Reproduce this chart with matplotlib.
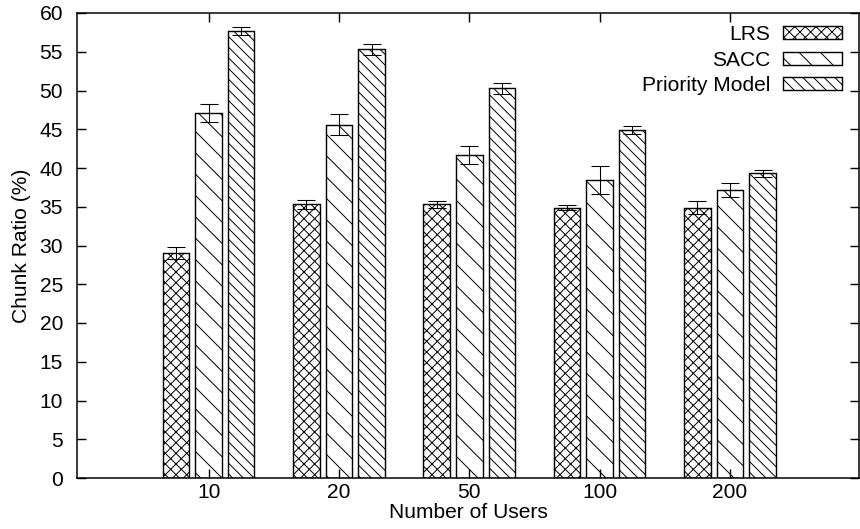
import numpy as np
import matplotlib
matplotlib.use("Agg")
import matplotlib.pyplot as plt

users = ["10", "20", "50", "100", "200"]
series = ["LRS", "SACC", "Priority Model"]
lrs = [29.0, 35.3, 35.3, 34.9, 34.9]
lrs_err = [0.8, 0.6, 0.4, 0.3, 0.8]
sacc = [47.1, 45.6, 41.7, 38.5, 37.2]
sacc_err = [1.2, 1.4, 1.2, 1.8, 0.9]
prio = [57.7, 55.3, 50.3, 44.9, 39.3]
prio_err = [0.5, 0.7, 0.7, 0.5, 0.4]

hatches = ["xxxx", "\\\\", "\\\\\\\\"]

DPI = 128  # hatch spacing scales with dpi, picked to match the gnuplot look
plt.rcParams["font.family"] = ["Liberation Sans", "DejaVu Sans"]
plt.rcParams["font.size"] = 11.8
plt.rcParams["hatch.linewidth"] = 0.55
plt.rcParams["hatch.color"] = "black"

fig = plt.figure(figsize=(860 / DPI, 529 / DPI), dpi=DPI)
ax = fig.add_axes([77 / 860, 51 / 529, 782 / 860, 465 / 529])

x = np.arange(len(users))
width = 0.203
step = 0.25
for i, (vals, errs) in enumerate([(lrs, lrs_err), (sacc, sacc_err), (prio, prio_err)]):
    ax.bar(x + (i - 1) * step, vals, width, yerr=errs, color="white",
           edgecolor="black", linewidth=0.8, hatch=hatches[i], label=series[i],
           error_kw=dict(ecolor="black", elinewidth=0.6, capsize=5, capthick=0.6))

ax.set_xlim(-1.01, 4.99)
ax.set_ylim(0, 60)
ax.set_yticks(range(0, 61, 5))
ax.set_xticks(x)
ax.set_xticklabels(users)
ax.tick_params(direction="in", top=True, right=True, length=5, width=0.8)
ax.tick_params(axis="y", pad=7.9)
ax.tick_params(axis="x", pad=2.8)
for s in ax.spines.values():
    s.set_linewidth(0.85)
ax.set_ylabel("Chunk Ratio (%)", labelpad=5)
ax.set_xlabel("Number of Users", labelpad=0.5)

ax.legend(loc="upper right", bbox_to_anchor=(0.978, 0.974), frameon=False,
          markerfirst=False, handlelength=2.8, handleheight=0.57,
          handletextpad=0.62, labelspacing=0.31, borderaxespad=0, borderpad=0)

fig.savefig("out.png", dpi=DPI)
